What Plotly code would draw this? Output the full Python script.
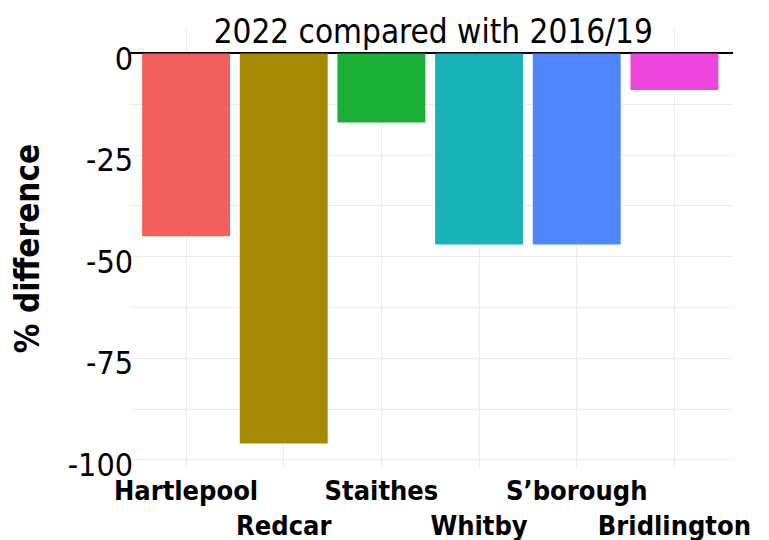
import plotly.graph_objects as go

places = ["Hartlepool", "Redcar", "Staithes", "Whitby", "S\u2019borough", "Bridlington"]
pct_diff = [-45, -96, -17, -47, -47, -9]
colors = ["#F25F5C", "#A68A03", "#1BAF35", "#17B3B6", "#4D86FF", "#EE45DC"]
tick_vals = [0, -25, -50, -75, -100]
tick_text = ["0", "-25", "-50", "-75", "-100"]

# staggered category labels (second row for alternate labels)
x_labels = [p if i % 2 == 0 else "<br>" + p for i, p in enumerate(places)]

FONT = "Liberation Sans Narrow, DejaVu Sans Condensed, sans-serif"

fig = go.Figure(go.Bar(
    x=list(range(len(places))), y=pct_diff,
    marker=dict(color=colors, line=dict(width=0)),
    width=0.9,
))

fig.update_layout(
    width=769, height=540,
    margin=dict(l=122, r=44, t=21, b=80, autoexpand=False),
    paper_bgcolor="white", plot_bgcolor="white",
    showlegend=False,
    font=dict(family=FONT, color="black"),
    title=dict(text="2022 compared with 2016/19", x=0.553, xanchor="center",
               y=0.978, yanchor="top", pad=dict(t=0, b=0),
               font=dict(size=33, family=FONT)),
)
fig.update_xaxes(
    range=[-0.574, 5.6],
    tickmode="array", tickvals=list(range(len(places))), ticktext=x_labels,
    tickangle=0, automargin=False, ticklabelstandoff=4,
    tickfont=dict(size=27, family=FONT, weight="bold"),
    showgrid=True, gridcolor="#ebebeb", gridwidth=1.2,
    showline=False, ticks="", zeroline=False,
)
fig.update_yaxes(
    range=[-102, 6], automargin=False,
    tickmode="array", tickvals=tick_vals, ticktext=tick_text,
    tickfont=dict(size=32),
    ticklabelshift=5, ticklabelstandoff=-4,
    showgrid=True, gridcolor="#ebebeb", gridwidth=1.2,
    minor=dict(dtick=12.5, tick0=0, showgrid=True, gridcolor="#ebebeb", gridwidth=1.2),
    zeroline=True, zerolinecolor="black", zerolinewidth=1.5,
    ticks="", showline=False,
    title=dict(text="% difference", standoff=22,
               font=dict(size=33, family=FONT, weight="bold")),
)

fig.write_html("out.html")
